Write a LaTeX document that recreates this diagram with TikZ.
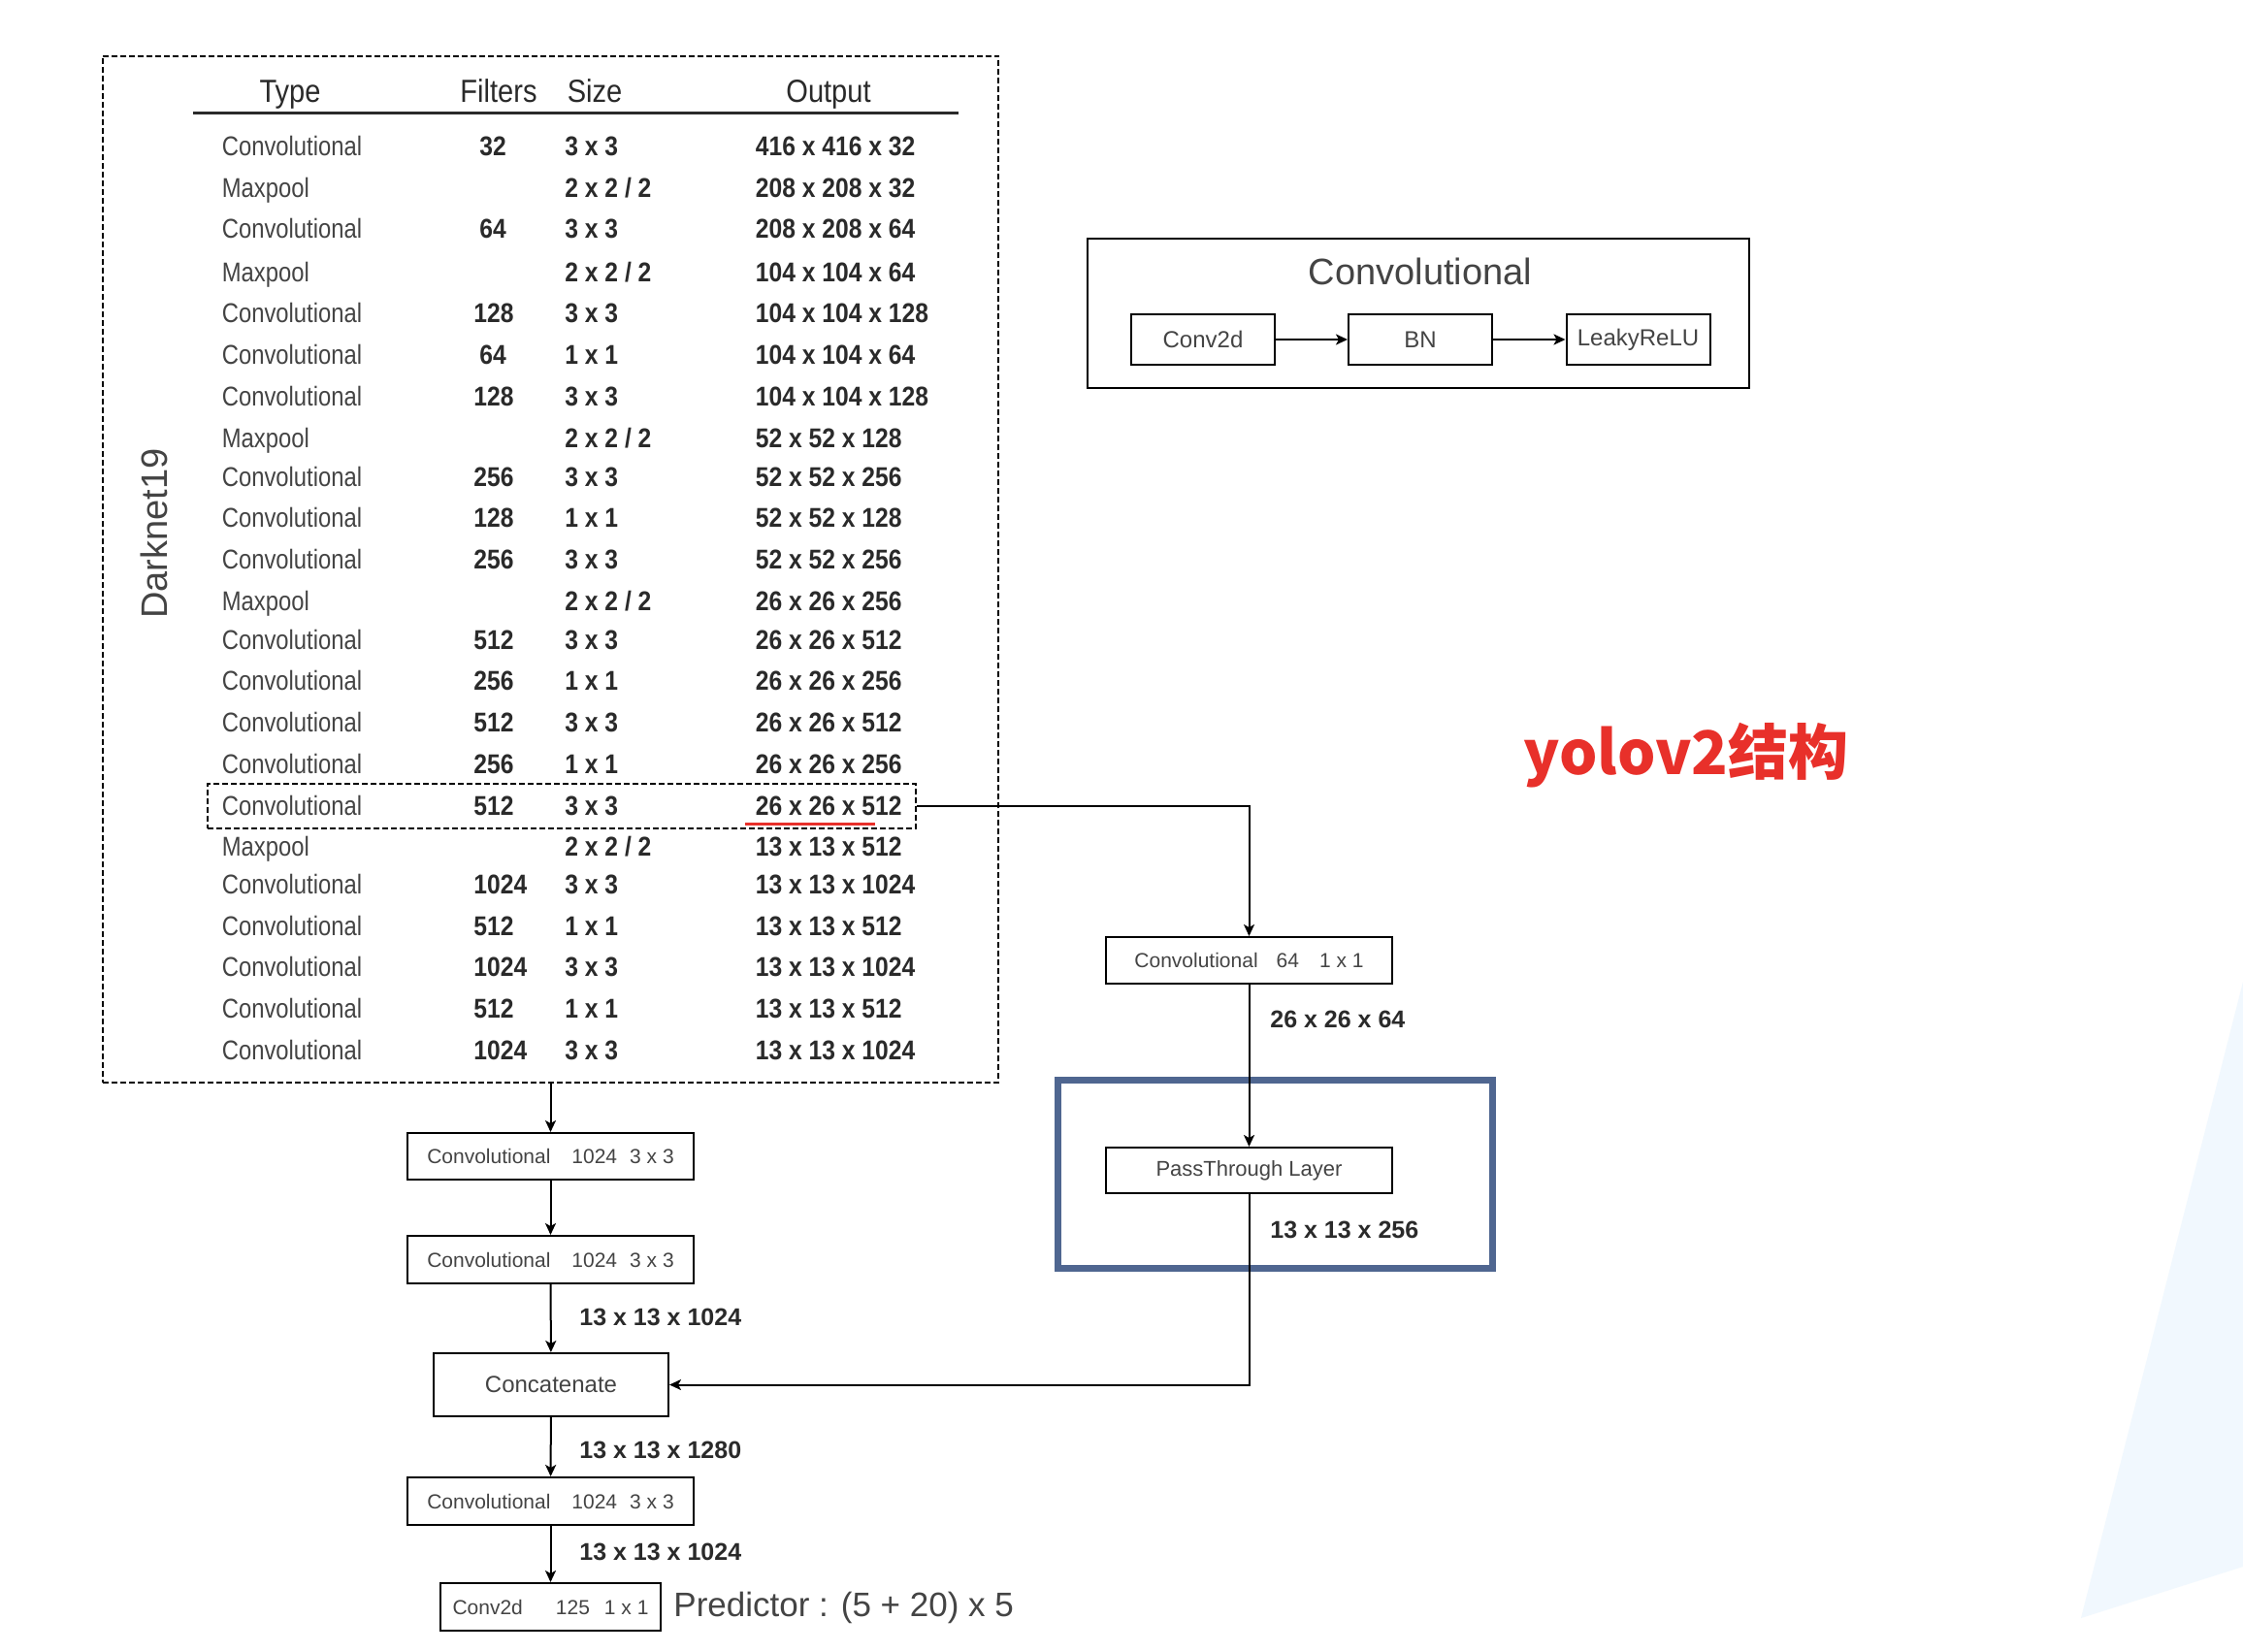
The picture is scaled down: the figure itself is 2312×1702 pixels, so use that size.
\documentclass[tikz,border=0pt]{standalone}
\usepackage{fontspec}
\setmainfont{Liberation Sans}
\newfontfamily\narrowfont[FakeStretch=0.85]{Liberation Sans}
\newfontfamily\numfont[FakeStretch=0.88]{Liberation Sans}
\newfontfamily\cjkfont{Noto Sans CJK SC}
\usetikzlibrary{arrows.meta}
\definecolor{txtgray}{HTML}{444444}
\definecolor{numgray}{HTML}{2A2A2A}
\definecolor{bluebox}{HTML}{4F6690}
\definecolor{redmark}{HTML}{E8302A}
\definecolor{lightsky}{HTML}{F1F8FE}
\begin{document}
\begin{tikzpicture}[x=0.5pt,y=-0.5pt,
  box/.style={draw=black, line width=1pt, fill=white, inner sep=0pt, text=txtgray, font=\fontsize{10.5}{12}\selectfont},
  conn/.style={draw=black, line width=1pt, -{Stealth[length=6pt,width=5.5pt,inset=1.5pt]}},
  typecol/.style={anchor=west, inner sep=0pt, text height=10pt, text depth=3pt, yshift=-1.5pt, text=txtgray, font=\narrowfont\fontsize{14}{16}\selectfont},
  numcol/.style={anchor=west, inner sep=0pt, text height=10pt, text depth=3pt, yshift=-1.5pt, text=numgray, font=\numfont\bfseries\fontsize{14}{16}\selectfont},
  headcol/.style={inner sep=0pt, text height=12pt, text depth=3.5pt, text=numgray, font=\numfont\fontsize{16.5}{18}\selectfont},
  dimlabel/.style={anchor=west, inner sep=0pt, text=numgray, font=\bfseries\fontsize{12.5}{14}\selectfont}
]
\fill[white] (0,0) rectangle (2312,1702);
\useasboundingbox (0,0) rectangle (2312,1702);
\fill[lightsky] (2312,1012) -- (2145,1668) -- (2312,1615) -- cycle;

% Darknet19 table box
\node[draw=black, dashed, dash pattern=on 3pt off 1.5pt, line width=1pt, minimum width=461.5pt, minimum height=529.25pt, inner sep=0pt] (darknet) at (567.5,587) {};
\node[rotate=90, inner sep=0pt, text=txtgray, font=\fontsize{19}{22}\selectfont] (dk) at (159,550) {Darknet19};

% header
\node[headcol] (hType) at (299,97) {Type};
\node[headcol] (hFilters) at (514,97) {Filters};
\node[headcol] (hSize) at (613,97) {Size};
\node[headcol] (hOutput) at (854,97) {Output};
\draw[line width=1.5pt, draw=numgray] (199,116.5) -- (988,116.5);

% highlighted row
\node[draw=black, dashed, dash pattern=on 3pt off 1.5pt, line width=1pt, minimum width=365pt, minimum height=23pt, inner sep=0pt] (hl) at (579,831) {};
\draw[redmark, line width=1.5pt] (768,849) -- (902,849);

\foreach \y/\t/\fx/\f/\s/\o [count=\i] in {
 150.4/Convolutional/494/32/3 x 3/416 x 416 x 32,
 193.2/Maxpool/494/{}/{2 x 2 / 2}/208 x 208 x 32,
 235.9/Convolutional/494/64/3 x 3/208 x 208 x 64,
 280.2/Maxpool/494/{}/{2 x 2 / 2}/104 x 104 x 64,
 322.9/Convolutional/488/128/3 x 3/104 x 104 x 128,
 365.7/Convolutional/494/64/1 x 1/104 x 104 x 64,
 408.4/Convolutional/488/128/3 x 3/104 x 104 x 128,
 451.2/Maxpool/488/{}/{2 x 2 / 2}/52 x 52 x 128,
 491.0/Convolutional/488/256/3 x 3/52 x 52 x 256,
 533.8/Convolutional/488/128/1 x 1/52 x 52 x 128,
 576.5/Convolutional/488/256/3 x 3/52 x 52 x 256,
 619.3/Maxpool/488/{}/{2 x 2 / 2}/26 x 26 x 256,
 659.1/Convolutional/488/512/3 x 3/26 x 26 x 512,
 701.9/Convolutional/488/256/1 x 1/26 x 26 x 256,
 744.6/Convolutional/488/512/3 x 3/26 x 26 x 512,
 787.4/Convolutional/488/256/1 x 1/26 x 26 x 256,
 830.1/Convolutional/488/512/3 x 3/26 x 26 x 512,
 872.9/Maxpool/488/{}/{2 x 2 / 2}/13 x 13 x 512,
 911.2/Convolutional/488/1024/3 x 3/13 x 13 x 1024,
 954.0/Convolutional/488/512/1 x 1/13 x 13 x 512,
 996.8/Convolutional/488/1024/3 x 3/13 x 13 x 1024,
 1039.5/Convolutional/488/512/1 x 1/13 x 13 x 512,
 1082.3/Convolutional/488/1024/3 x 3/13 x 13 x 1024}
{
 \node[typecol] (t\i) at (228.5,\y) {\t};
 \node[numcol] (f\i) at (\fx,\y) {\f};
 \node[numcol] (s\i) at (582,\y) {\s};
 \node[numcol] (o\i) at (778.5,\y) {\o};
}

% Convolutional block (top right)
\node[draw=black, line width=1pt, minimum width=341pt, minimum height=77pt, inner sep=0pt] (convblock) at (1462,323) {};
\node[inner sep=0pt, text=txtgray, font=\fontsize{19}{22}\selectfont] (convtitle) at (1464,280) {Convolutional};
\node[box, minimum width=74pt, minimum height=26pt, font=\fontsize{12}{14}\selectfont] (cv2d) at (1240,350) {Conv2d};
\node[box, minimum width=74pt, minimum height=26pt, font=\fontsize{12}{14}\selectfont] (bn) at (1464,350) {BN};
\node[box, minimum width=74pt, minimum height=26pt, font=\fontsize{12}{14}\selectfont] (lrelu) at (1688.5,350) {LeakyReLU};
\draw[conn] (cv2d) -- (bn);
\draw[conn] (bn) -- (lrelu);

% title
\node[inner sep=0pt, text=redmark, font=\cjkfont\bfseries\fontsize{31}{36}\selectfont] (title) at (1738,779) {yolov2结构};

% passthrough branch
\node[draw=bluebox, line width=3.5pt, minimum width=224pt, minimum height=97pt, inner sep=0pt] (bluefr) at (1314.5,1210.5) {};
\node[box, minimum width=147.5pt, minimum height=24pt] (c64) at (1287.5,990) {Convolutional\hspace{9.5pt}64\hspace{10.5pt}1 x 1};
\node[box, minimum width=147.5pt, minimum height=23.5pt, font=\fontsize{11}{13}\selectfont] (pt) at (1287.5,1206.5) {PassThrough Layer};
\node[dimlabel] (l64) at (1309,1051) {26 x 26 x 64};
\node[dimlabel] (l256) at (1309,1268) {13 x 13 x 256};

% main chain
\node[box, minimum width=147.5pt, minimum height=24pt] (c1) at (567.5,1192) {Convolutional\hspace{11pt}1024\hspace{6.5pt}3 x 3};
\node[box, minimum width=147.5pt, minimum height=24.5pt] (c2) at (567.5,1298.5) {Convolutional\hspace{11pt}1024\hspace{6.5pt}3 x 3};
\node[box, minimum width=121pt, minimum height=32.5pt, font=\fontsize{12}{14}\selectfont] (cat) at (568,1427.5) {Concatenate};
\node[box, minimum width=147.5pt, minimum height=24.5pt] (c3) at (567.5,1547.5) {Convolutional\hspace{11pt}1024\hspace{6.5pt}3 x 3};
\node[box, minimum width=113.5pt, minimum height=24.5pt] (pred) at (567.5,1656.5) {Conv2d\hspace{17pt}125\hspace{7.5pt}1 x 1};
\node[anchor=west, inner sep=0pt, text=txtgray, font=\fontsize{17.5}{20}\selectfont] (predtxt) at (694,1657) {Predictor : (5 + 20) x 5};
\node[dimlabel] (l1024a) at (597,1358) {13 x 13 x 1024};
\node[dimlabel] (l1280) at (597,1495) {13 x 13 x 1280};
\node[dimlabel] (l1024b) at (597,1600) {13 x 13 x 1024};

\draw[conn] (darknet.south) -- (c1.north);
\draw[conn] (c1) -- (c2);
\draw[conn] (c2) -- (cat);
\draw[conn] (cat) -- (c3);
\draw[conn] (c3) -- (pred);
\draw[conn] (hl.east) -| (c64.north);
\draw[conn] (c64) -- (pt);
\draw[conn] (pt.south) |- (cat.east);
\end{tikzpicture}
\end{document}
